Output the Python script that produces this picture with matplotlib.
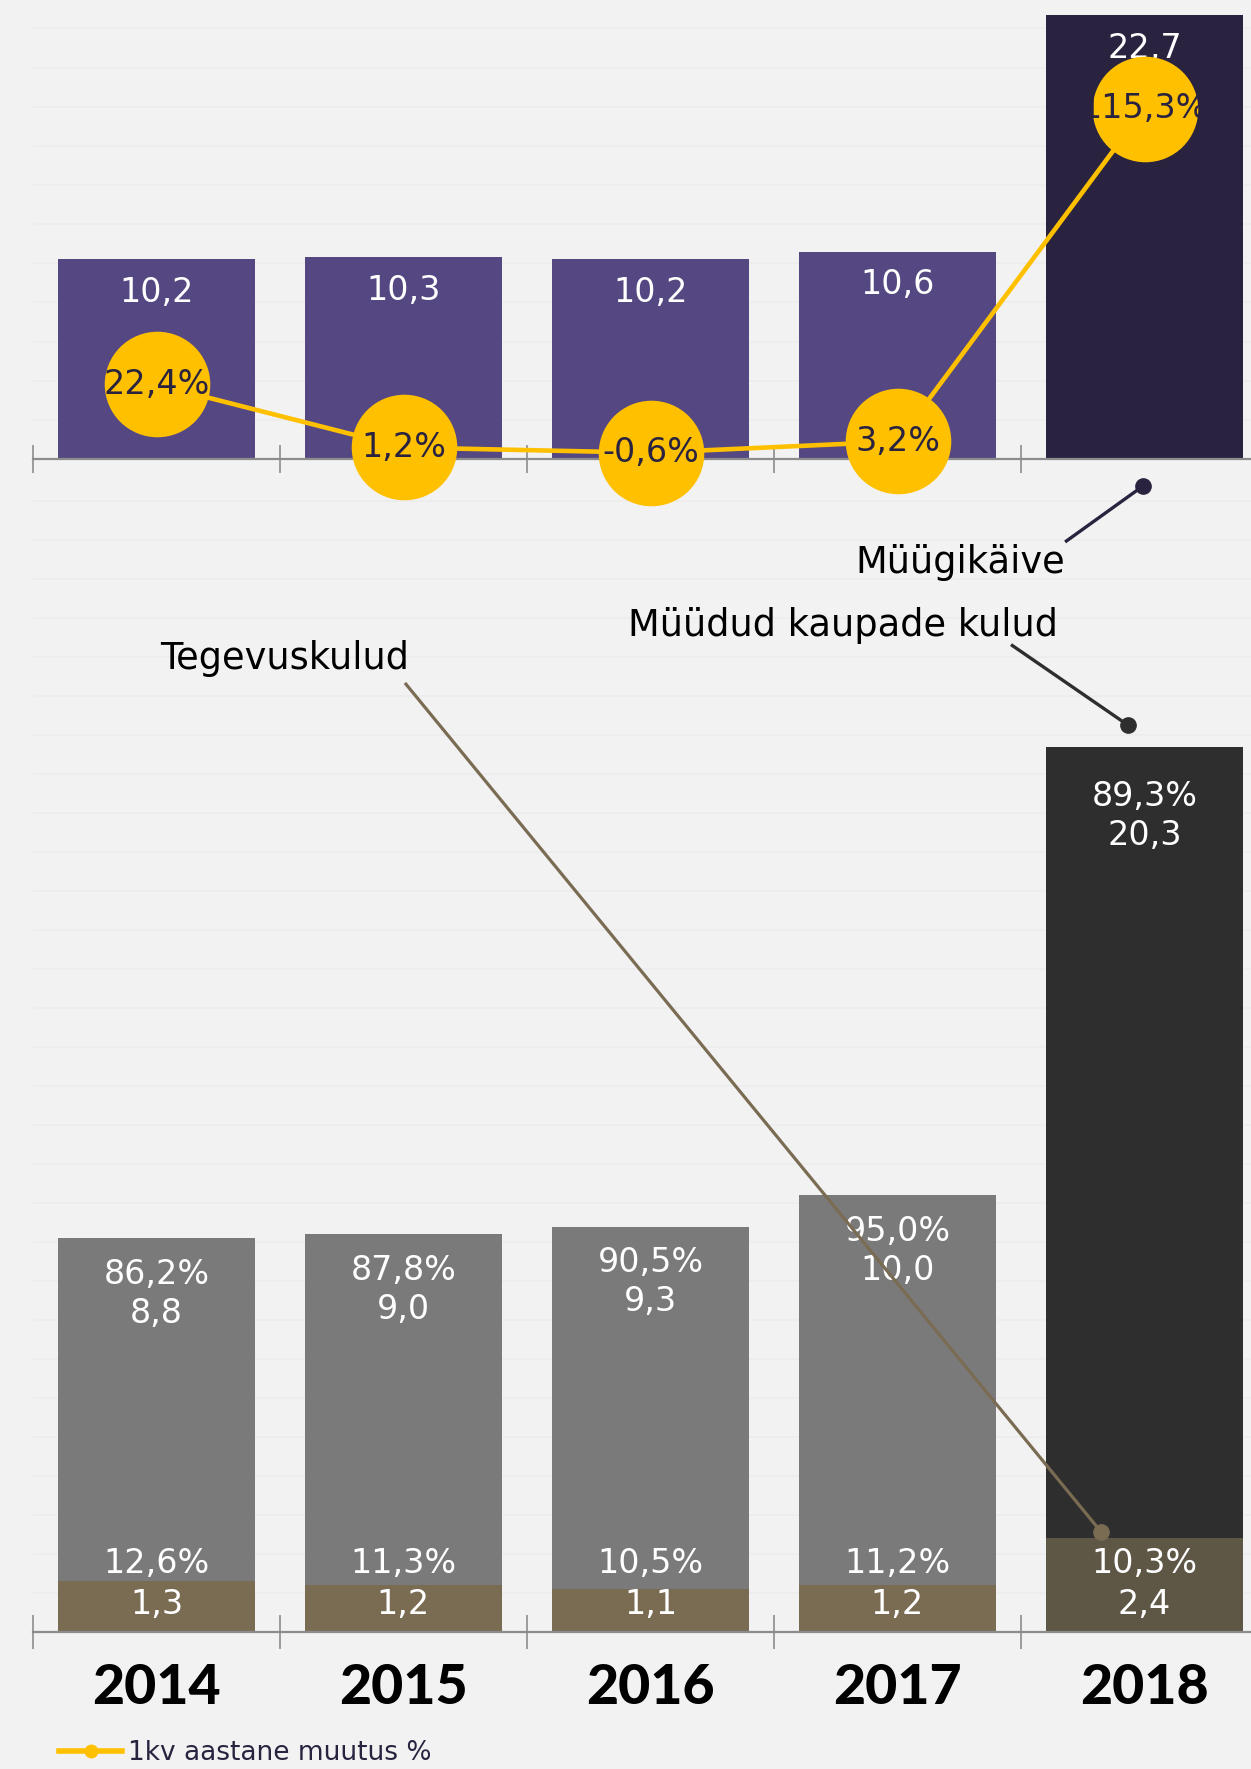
import matplotlib
matplotlib.use("Agg")
import matplotlib.pyplot as plt
import numpy as np

# ---------------- data ----------------
years = ["2014", "2015", "2016", "2017", "2018"]
sales = [10.2, 10.3, 10.2, 10.6, 22.7]            # Müügikäive
yoy_change = [22.4, 1.2, -0.6, 3.2, 115.3]        # 1kv aastane muutus %
cogs = [8.8, 9.0, 9.3, 10.0, 20.3]                # Müüdud kaupade kulud
cogs_pct = [86.2, 87.8, 90.5, 95.0, 89.3]
opex = [1.3, 1.2, 1.1, 1.2, 2.4]                  # Tegevuskulud
opex_pct = [12.6, 11.3, 10.5, 11.2, 10.3]

# ---------------- style ----------------
BG = "#F2F2F2"
GRID = "#EDEDED"
PURPLE = "#554882"
NAVY = "#2A2340"
GRAY = "#7A7A7A"
DARK = "#2E2E2E"
BROWN = "#7A6C53"
BROWN_D = "#5E5745"
YELLOW = "#FFC000"
AXIS = "#8C8C8C"

plt.rcParams["font.family"] = ["DejaVu Sans"]
NUM_FS = 24
ANN_FS = 26.5

def fmt(v):
    return f"{v:.1f}".replace(".", ",")

W, H = 1251, 1769
fig = plt.figure(figsize=(W / 100, H / 100), dpi=100, facecolor=BG)

def axrect(x0, y0, x1, y1):
    return [x0 / W, 1 - y1 / H, (x1 - x0) / W, (y1 - y0) / H]

x = np.arange(len(years))
n = len(years)

# ---------------- bottom panel (costs) ----------------
ax_b = fig.add_axes(axrect(33, 470, 1268, 1632))
ax_b.set_facecolor("none")
ax_b.set_xlim(-0.5, n - 0.5)
ax_b.set_ylim(0, (1632 - 470) / 38.99)
ax_b.set_yticks(np.arange(1, 30, 1))
ax_b.yaxis.grid(True, color=GRID, lw=1.2)
ax_b.set_axisbelow(True)
ax_b.tick_params(axis="y", length=0, labelleft=False)
for s in ["top", "left", "right"]:
    ax_b.spines[s].set_visible(False)
ax_b.spines["bottom"].set_color(AXIS)
ax_b.spines["bottom"].set_linewidth(1.6)

opex_colors = [BROWN] * (n - 1) + [BROWN_D]
cogs_colors = [GRAY] * (n - 1) + [DARK]
ax_b.bar(x, opex, width=0.8, color=opex_colors, zorder=2)
ax_b.bar(x, cogs, width=0.8, bottom=opex, color=cogs_colors, zorder=2)

lbl = dict(color="white", fontsize=NUM_FS, ha="center", va="center",
           textcoords="offset points", zorder=4)
for i in range(n):
    top = opex[i] + cogs[i]
    off1, off2 = (-26, -54) if i < n - 1 else (-36, -64)
    ax_b.annotate(f"{fmt(cogs_pct[i])}%", (x[i], top), xytext=(0, off1), **lbl)
    ax_b.annotate(fmt(cogs[i]), (x[i], top), xytext=(0, off2), **lbl)
    ax_b.annotate(f"{fmt(opex_pct[i])}%", (x[i], 0), xytext=(0, 49), **lbl)
    ax_b.annotate(fmt(opex[i]), (x[i], 0), xytext=(0, 20), **lbl)

ax_b.set_xticks(x)
ax_b.set_xticklabels(years, fontsize=40, fontweight="black", color="black",
                     family=["Lato", "DejaVu Sans"])
ax_b.tick_params(axis="x", which="major", length=0, pad=22)
ax_b.set_xticks(np.arange(-0.5, n, 1.0), minor=True)
ax_b.tick_params(axis="x", which="minor", direction="inout", length=24,
                 width=1.2, color=AXIS)

# leader: Müüdud kaupade kulud
d_x, d_y = x[-1] - 0.065, opex[-1] + cogs[-1] + 0.55
ax_b.plot([d_x - 0.47, d_x], [d_y + 2.05, d_y], color=DARK, lw=2.4, zorder=5)
ax_b.plot([d_x], [d_y], "o", color=DARK, ms=11, zorder=5)
ax_b.text(3.65, d_y + 2.57, "Müüdud kaupade kulud", fontsize=ANN_FS,
          ha="right", va="center", color="black")

# leader: Tegevuskulud
t_x, t_y = x[-1] - 0.176, opex[-1] + 0.17
ax_b.plot([1.01, t_x], [24.31, t_y], color=BROWN, lw=2.3, zorder=5)
ax_b.plot([t_x], [t_y], "o", color=BROWN, ms=11, zorder=5)
ax_b.text(0.52, 24.98, "Tegevuskulud", fontsize=ANN_FS, ha="center",
          va="center", color="black")

# ---------------- top panel (sales) ----------------
ax_t = fig.add_axes(axrect(33, 0, 1268, 600))
ax_t.set_facecolor("none")
ax_t.set_xlim(-0.5, n - 0.5)
ax_t.set_ylim(-(600 - 459) / 19.57, 459 / 19.57)
ax_t.set_yticks(np.arange(2, 24, 2))
ax_t.yaxis.grid(True, color=GRID, lw=1.2)
ax_t.set_axisbelow(True)
ax_t.tick_params(axis="y", length=0, labelleft=False)
for s in ["top", "left", "right"]:
    ax_t.spines[s].set_visible(False)
ax_t.spines["bottom"].set_position(("data", 0))
ax_t.spines["bottom"].set_color(AXIS)
ax_t.spines["bottom"].set_linewidth(1.6)
ax_t.set_xticks(x)
ax_t.tick_params(axis="x", which="major", length=0, labelbottom=False)
ax_t.set_xticks(np.arange(-0.5, n, 1.0), minor=True)
ax_t.tick_params(axis="x", which="minor", direction="inout", length=20,
                 width=1.2, color=AXIS)

ax_t.bar(x, sales, width=0.8, color=[PURPLE] * (n - 1) + [NAVY], zorder=2)
for i in range(n):
    ax_t.annotate(fmt(sales[i]), (x[i], sales[i]), xytext=(0, -24), **lbl)

# leader: Müügikäive
m_x, m_y = x[-1] - 0.006, -1.38
ax_t.plot([m_x - 0.31, m_x], [m_y - 2.81, m_y], color=NAVY, lw=2.4, zorder=5)
ax_t.plot([m_x], [m_y], "o", color=NAVY, ms=11, zorder=5)
ax_t.text(3.678, -5.31, "Müügikäive", fontsize=ANN_FS, ha="right",
          va="center", color="black")

# yoy change line on twin axis
ax_y = ax_t.twinx()
ax_y.set_facecolor("none")
ax_y.set_ylim(-(600 - 451) / 2.97, 451 / 2.97)
ax_y.axis("off")
line, = ax_y.plot(x, yoy_change, color=YELLOW, lw=3.3, marker="o", ms=76,
                  mec="none", label="1kv aastane muutus %", zorder=3)
for i in range(n):
    ax_y.text(x[i], yoy_change[i], f"{fmt(yoy_change[i])}%", fontsize=NUM_FS,
              ha="center", va="center", color=NAVY, zorder=4)

leg = fig.legend(handles=[line], loc="center left",
                 bbox_to_anchor=(59 / W, 1 - 1753 / H), frameon=False,
                 fontsize=19, handlelength=2.4, handletextpad=0.2,
                 borderpad=0, borderaxespad=0, labelcolor=NAVY)
for h in leg.legend_handles:
    h.set_markersize(10)
    h.set_linewidth(4)

fig.savefig("out.png", dpi=100, facecolor=BG)
